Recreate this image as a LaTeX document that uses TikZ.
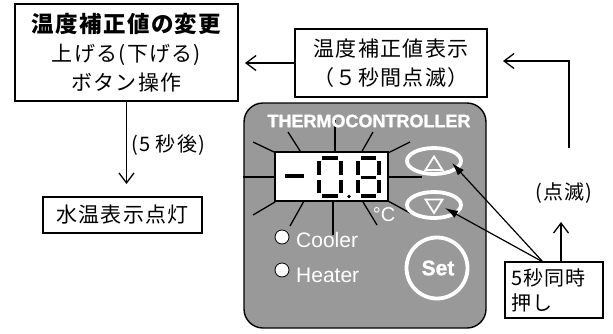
\documentclass[tikz,border=0pt]{standalone}
\usepackage{fontspec}
\setmainfont{Liberation Sans}
\newfontfamily\heavy[BoldFeatures={FakeBold=1.2}]{Liberation Sans}
\newfontfamily\jp[LetterSpace=6]{Noto Sans CJK JP}
\usetikzlibrary{arrows.meta}
\definecolor{panelgray}{RGB}{153,153,153}

\begin{document}
\begin{tikzpicture}[x=1pt,y=-1pt,
  box/.style={draw, line width=1.3pt, fill=white, inner sep=0pt,
    font=\jp\fontsize{21}{29}\selectfont, align=center},
  arr/.style={line width=1.3pt,
    -{Straight Barb[length=10pt,width=15pt,line width=1.3pt]}},
  tri/.style={line width=1.2pt, -{Latex[length=13pt,width=8pt]}},
  ray/.style={line width=1.3pt},
  seg/.style={line width=3.2pt},
  wht/.style={draw=white, line width=3.8pt},
  lbl/.style={font=\jp\fontsize{20}{24}\selectfont, inner sep=0pt},
  led/.style={circle, draw=black, line width=0.8pt, fill=white,
    minimum size=14pt, inner sep=0pt},
  paneltext/.style={text=white, inner sep=0pt}]
\useasboundingbox (0,0) rectangle (613,333);

% ---------- flow boxes ----------
\node[box, minimum width=223pt, minimum height=97pt] (adjbox) at (126.5,52.5)
  {{\bfseries\fontsize{22.5}{29}\selectfont 温度補正値の変更}\\上げる(下げる)\\ボタン操作};
\node[box, minimum width=192pt, minimum height=68pt] (showbox) at (391,63)
  {温度補正値表示\\（５秒間点滅）};
\node[box, minimum width=159pt, minimum height=36pt] (tempbox) at (122.5,215)
  {水温表示点灯};
\node[box, text width=86pt, inner xsep=6pt, minimum height=56pt,
  align=left, font=\jp\fontsize{20}{25}\selectfont] (pushbox) at (554,290)
  {5秒同時\\押し};

% ---------- labels ----------
\node[lbl, anchor=west] (afterlbl) at (131,145) {(5 秒後)};
\node[lbl] (blinklbl) at (564,193) {(点滅)};

% ---------- connectors ----------
\coordinate (downtip) at (126.5,184);
\coordinate (lefttip) at (245,63);
\coordinate (rstart) at (569,148);
\coordinate (rtip) at (503,61);
\coordinate (uptip) at (561,222);
\coordinate (fork) at (543,262);
\coordinate (upbtntip) at (452,163);
\coordinate (dnbtntip) at (445,208);

\draw[arr] (adjbox.south) -- (downtip);
\draw[arr] (showbox.west) -- (lefttip);
\draw[arr] (rstart) |- (rtip);
\draw[arr] (uptip |- pushbox.north) -- (uptip);

% ---------- controller panel ----------
\draw[line width=1.4pt, fill=panelgray, rounded corners=19pt]
  (244,103) rectangle (486,328);

% rays around the display
\draw[ray] (243,177) -- (275,177);
\draw[ray] (253,142) -- (274,152);
\draw[ray] (288,132) -- (302,154);
\draw[ray] (335,120) -- (335,152);
\draw[ray] (373,132) -- (361,153);
\draw[ray] (410,142) -- (388,153);
\draw[ray] (388,177) -- (422,177);
\draw[ray] (388,201) -- (410,213);
\draw[ray] (363,202) -- (377,225);
\draw[ray] (333,201) -- (333,235);
\draw[ray] (304,201) -- (290,226);
\draw[ray] (275,202) -- (253,215);

\node[paneltext, font=\heavy\bfseries\fontsize{18}{18}\selectfont] (brand) at (369,121)
  {THERMOCONTROLLER};

% display window
\draw[line width=1.4pt, fill=white] (275,152) rectangle (388,201);

% seven-segment "-0.8"
\draw[seg] (285,176) -- (304,176);
% digit 0
\draw[seg] (322,158) -- (338,158);
\draw[seg] (319,161) -- (319,175);
\draw[seg] (341,161) -- (341,175);
\draw[seg] (319,180) -- (319,193);
\draw[seg] (341,180) -- (341,193);
\draw[seg] (322,196) -- (338,196);
% decimal point
\fill (349,196.5) circle (1.8);
% digit 8
\draw[seg] (361,158) -- (376,158);
\draw[seg] (358,161) -- (358,175);
\draw[seg] (379,161) -- (379,175);
\draw[seg] (361,177.5) -- (376,177.5);
\draw[seg] (358,180) -- (358,193);
\draw[seg] (379,180) -- (379,193);
\draw[seg] (361,196) -- (376,196);

\node[paneltext, font=\fontsize{20}{20}\selectfont] (degc) at (384,215) {°C};

% up / down buttons
\draw[wht] (434,161) ellipse (27 and 13);
\draw[draw=white, line width=1.8pt, line join=miter]
  (434,156.5) -- (442.5,170) -- (425.5,170) -- cycle;
\draw[wht] (434,205) ellipse (27 and 13);
\draw[draw=white, line width=1.8pt, line join=miter]
  (425.5,199.5) -- (442.5,199.5) -- (434,213) -- cycle;

% set button
\draw[wht] (437,268) circle (30.5);
\node[paneltext, font=\heavy\bfseries\fontsize{21}{21}\selectfont] (setlbl) at (438,268) {Set};

% indicator lamps
\node[led] (coolled) at (282,237) {};
\node[led] (heatled) at (282,270) {};
\node[paneltext, anchor=base west, font=\fontsize{21}{21}\selectfont] (coollbl)
  at (296,247) {Cooler};
\node[paneltext, anchor=base west, font=\fontsize{21}{21}\selectfont] (heatlbl)
  at (296,282) {Heater};

% pointers to the buttons
\draw[tri] (fork) -- (upbtntip);
\draw[tri] (fork) -- (dnbtntip);
\end{tikzpicture}
\end{document}
